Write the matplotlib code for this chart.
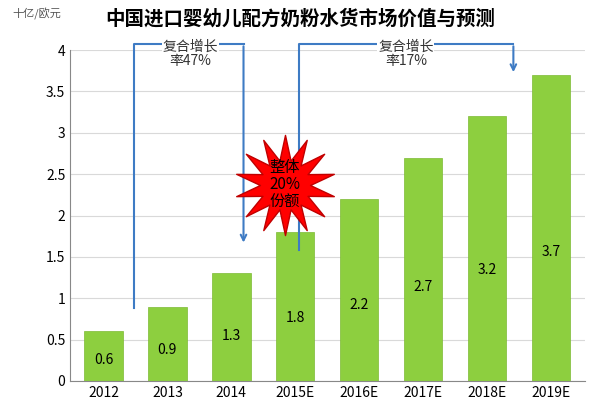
import matplotlib
matplotlib.use("Agg")
import matplotlib.pyplot as plt
import numpy as np

plt.rcParams['font.family'] = ['Noto Sans CJK SC', 'DejaVu Sans']

years = ['2012', '2013', '2014', '2015E', '2016E', '2017E', '2018E', '2019E']
values = [0.6, 0.9, 1.3, 1.8, 2.2, 2.7, 3.2, 3.7]
labels = ['0.6', '0.9', '1.3', '1.8', '2.2', '2.7', '3.2', '3.7']

fig = plt.figure(figsize=(6, 4.11), dpi=100)
ax = fig.add_axes([0.117, 0.073, 0.858, 0.805])
x = np.arange(len(years))
ax.bar(x, values, width=0.6, color='#8DCF3F', edgecolor='#7DBA34', linewidth=0.5, zorder=2)
for xi, v, l in zip(x, values, labels):
    ax.text(xi, v * 0.42, l, ha='center', va='center', fontsize=10, zorder=3)
ax.set_xlim(-0.52, 7.53)
ax.set_ylim(0, 4)
ax.set_yticks(np.arange(0, 4.01, 0.5))
ax.set_yticklabels(['0', '0.5', '1', '1.5', '2', '2.5', '3', '3.5', '4'])
ax.set_xticks(x)
ax.set_xticklabels(years)
ax.tick_params(labelsize=10, length=0)
ax.grid(axis='y', color='#D9D9D9', linewidth=0.8, zorder=0)
for s in ['top', 'right']:
    ax.spines[s].set_visible(False)
ax.spines['left'].set_color('#888888')
ax.spines['bottom'].set_color('#888888')

blue = '#3E7BC4'
ax.plot([0.47, 0.47, 2.19], [0.88, 4.08, 4.08], color=blue, lw=1.5, clip_on=False, zorder=4)
ax.annotate('', xy=(2.19, 1.64), xytext=(2.19, 4.08), annotation_clip=False,
            arrowprops=dict(arrowstyle='->', color=blue, lw=1.5), zorder=4)
ax.plot([3.05, 3.05, 6.41], [1.58, 4.08, 4.08], color=blue, lw=1.5, clip_on=False, zorder=4)
ax.annotate('', xy=(6.41, 3.7), xytext=(6.41, 4.08), annotation_clip=False,
            arrowprops=dict(arrowstyle='->', color=blue, lw=1.5), zorder=4)
ax.text(1.36, 3.95, '复合增长\n率47%', ha='center', va='center', fontsize=10, color='#333333',
        linespacing=1.0, bbox=dict(fc='white', ec='none', pad=0.5), clip_on=False, zorder=5)
ax.text(4.73, 3.95, '复合增长\n率17%', ha='center', va='center', fontsize=10, color='#333333',
        linespacing=1.0, bbox=dict(fc='white', ec='none', pad=0.5), clip_on=False, zorder=5)

ax.scatter([2.84], [2.37], marker=(14, 1, 0), s=5200, color='#FF0000', edgecolor='#C00000', zorder=6)
ax.text(2.84, 2.37, '整体\n20%\n份额', ha='center', va='center', fontsize=11, color='black',
        linespacing=1.0, zorder=7)

fig.text(0.5, 0.955, '中国进口婴幼儿配方奶粉水货市场价值与预测', ha='center', va='center',
         fontsize=14, fontweight='bold')
fig.text(0.02, 0.965, '十亿/欧元', ha='left', va='center', fontsize=8, color='#555555')
fig.savefig('out.png', dpi=100)
